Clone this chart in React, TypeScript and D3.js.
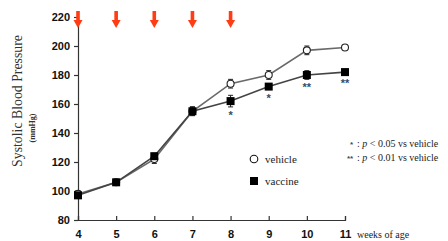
import { useEffect, useRef } from 'react'
import * as d3 from 'd3'

const weeks = [4, 5, 6, 7, 8, 9, 10, 11]
const vehicle = [98, 106, 122, 155, 174, 180, 197, 199]
const vehicleErr = [2, 2, 3, 3, 3, 3, 3, 1.5]
const vaccine = [97, 106, 124, 155, 162, 172, 180, 182]
const vaccineErr = [2, 2, 2, 3, 4, 2, 3, 2]
const signif = ['', '', '', '', '*', '*', '**', '**']
const arrowWeeks = [4, 5, 6, 7, 8]
const yTicks = [80, 100, 120, 140, 160, 180, 200, 220]

export default function App() {
  const svgRef = useRef<SVGSVGElement>(null)

  useEffect(() => {
    if (!svgRef.current) return
    const svg = d3.select(svgRef.current)
    svg.selectAll('*').remove()

    const x = d3.scaleLinear().domain([4, 11]).range([78, 345])
    const y = d3.scaleLinear().domain([80, 220]).range([220, 17])

    const tickFont = 'Liberation Sans, Arial, sans-serif'
    const serif = 'Liberation Serif, Times New Roman, serif'

    // axes
    const yAxis = svg.append('g').attr('transform', 'translate(78,0)')
      .call(d3.axisLeft(y).tickValues(yTicks).tickSize(4).tickPadding(4))
    const xAxis = svg.append('g').attr('transform', 'translate(0,220)')
      .call(d3.axisBottom(x).tickValues(weeks).tickSize(-4).tickPadding(8).tickFormat(d3.format('d')))
    ;[xAxis, yAxis].forEach(a => {
      a.selectAll('text').style('font-family', tickFont).style('font-weight', 'bold')
        .style('font-size', '11px').style('fill', '#111')
      a.selectAll('line').style('stroke', '#333').style('stroke-width', 1.2)
      a.select('.domain').style('stroke', '#333').style('stroke-width', 1.2)
    })
    xAxis.selectAll('text').attr('dy', '0.9em')

    // arrows
    arrowWeeks.forEach(w => {
      const cx = x(w)
      svg.append('rect').attr('x', cx - 1.8).attr('y', 11).attr('width', 3.6).attr('height', 10).attr('fill', '#ff3c14')
      svg.append('path').attr('d', `M${cx - 4.5},20 L${cx + 4.5},20 L${cx},28 Z`).attr('fill', '#ff3c14')
    })

    const pts = (vals: number[]) => weeks.map((w, i) => [x(w), y(vals[i])] as [number, number])
    const line = d3.line()

    // error bars
    const errBars = (vals: number[], errs: number[]) => {
      weeks.forEach((w, i) => {
        const cx = x(w)
        const top = y(vals[i] + errs[i])
        const bot = y(vals[i] - errs[i])
        svg.append('line').attr('x1', cx).attr('x2', cx).attr('y1', top).attr('y2', bot).attr('stroke', '#222').attr('stroke-width', 1)
        svg.append('line').attr('x1', cx - 2.5).attr('x2', cx + 2.5).attr('y1', top).attr('y2', top).attr('stroke', '#222').attr('stroke-width', 1)
        svg.append('line').attr('x1', cx - 2.5).attr('x2', cx + 2.5).attr('y1', bot).attr('y2', bot).attr('stroke', '#222').attr('stroke-width', 1)
      })
    }
    errBars(vehicle, vehicleErr)
    errBars(vaccine, vaccineErr)

    svg.append('path').attr('d', line(pts(vehicle))).attr('fill', 'none').attr('stroke', '#6a6a6a').attr('stroke-width', 1.6)
    svg.append('path').attr('d', line(pts(vaccine))).attr('fill', 'none').attr('stroke', '#444').attr('stroke-width', 1.6)

    pts(vehicle).forEach(([cx, cy]) => {
      svg.append('circle').attr('cx', cx).attr('cy', cy).attr('r', 3.5).attr('fill', '#fff').attr('stroke', '#222').attr('stroke-width', 1.1)
    })
    pts(vaccine).forEach(([cx, cy]) => {
      svg.append('rect').attr('x', cx - 4).attr('y', cy - 4).attr('width', 8).attr('height', 8).attr('fill', '#000')
    })

    // significance marks
    weeks.forEach((w, i) => {
      if (!signif[i]) return
      svg.append('text').attr('x', x(w)).attr('y', y(vaccine[i] - vaccineErr[i]) + 12)
        .attr('text-anchor', 'middle').style('font-family', tickFont).style('font-size', '11px')
        .style('font-weight', 'bold').style('fill', '#3a4a6a').text(signif[i])
    })

    // y title
    svg.append('text').attr('transform', 'translate(22,101) rotate(-90)').attr('text-anchor', 'middle')
      .style('font-family', serif).style('font-size', '13.8px').style('fill', '#333').text('Systolic Blood Pressure')
    svg.append('text').attr('transform', 'translate(35,128) rotate(-90)').attr('text-anchor', 'middle')
      .style('font-family', serif).style('font-size', '8px').style('font-weight', 'bold').style('fill', '#333').text('(mmHg)')

    // x title
    svg.append('text').attr('x', 357).attr('y', 238)
      .style('font-family', serif).style('font-size', '10px').style('fill', '#222').text('weeks of age')

    // legend
    svg.append('circle').attr('cx', 254).attr('cy', 159).attr('r', 3.8).attr('fill', '#fff').attr('stroke', '#111').attr('stroke-width', 1.1)
    svg.append('text').attr('x', 265).attr('y', 163).style('font-family', serif).style('font-size', '11px').style('fill', '#222').text('vehicle')
    svg.append('rect').attr('x', 250).attr('y', 177).attr('width', 8).attr('height', 8).attr('fill', '#000')
    svg.append('text').attr('x', 265).attr('y', 185).style('font-family', serif).style('font-size', '11px').style('fill', '#222').text('vaccine')

    // p-value notes
    const notes = [
      { mark: '*', y: 147, markX: 350 },
      { mark: '**', y: 161, markX: 347 },
    ]
    const pvals = ['0.05', '0.01']
    notes.forEach((n, i) => {
      svg.append('text').attr('x', n.markX).attr('y', n.y).style('font-family', tickFont).style('font-size', '8px')
        .style('font-weight', 'bold').style('fill', '#3a4a6a').text(n.mark)
      const t = svg.append('text').attr('x', 357).attr('y', n.y).style('font-family', serif).style('font-size', '10px').style('fill', '#222')
      t.append('tspan').text(': ')
      t.append('tspan').style('font-style', 'italic').text('p')
      t.append('tspan').text(` < ${pvals[i]} vs vehicle`)
    })
  }, [])

  return (
    <svg ref={svgRef} width={448} height={241} style={{ position: 'absolute', left: 0, top: 0, background: '#fff' }} />
  )
}
